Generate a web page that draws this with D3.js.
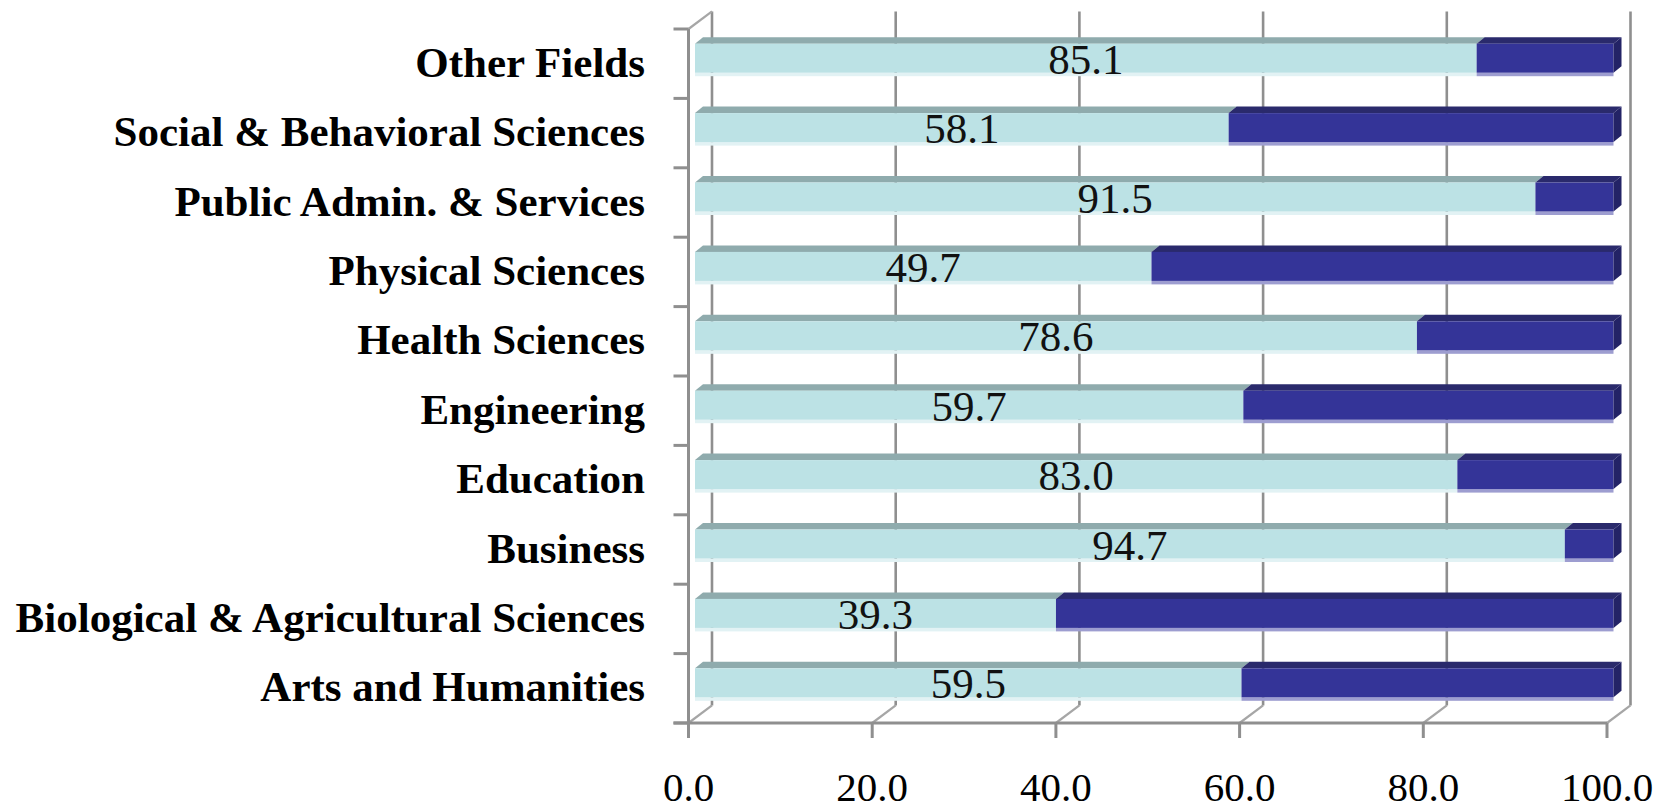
<!DOCTYPE html>
<html>
<head>
<meta charset="utf-8">
<script src="https://cdn.jsdelivr.net/npm/d3@7"></script>
<style>
  html, body { margin: 0; padding: 0; background: #ffffff; }
  svg { display: block; }
</style>
</head>
<body>
<svg id="chart" width="1671" height="811"></svg>
<script>
// Categories listed bottom to top
const categories = [
  "Arts and Humanities",
  "Biological & Agricultural Sciences",
  "Business",
  "Education",
  "Engineering",
  "Health Sciences",
  "Physical Sciences",
  "Public Admin. & Services",
  "Social & Behavioral Sciences",
  "Other Fields"
];
// First (light) series, shown as labels
const shareA = [59.5, 39.3, 94.7, 83.0, 59.7, 78.6, 49.7, 91.5, 58.1, 85.1];
// Second (dark) series
const shareB = [40.5, 60.7, 5.3, 17.0, 40.3, 21.4, 50.3, 8.5, 41.9, 14.9];
const xTicks = [0, 20, 40, 60, 80, 100];

const svg = d3.select("#chart");

// Front plane scales
const x = d3.scaleLinear().domain([0, 100]).range([688.5, 1607]);
const y = d3.scaleBand().domain(categories.slice().reverse()).range([29, 723]).padding(0);

// Depth offset of the back wall relative to the front plane
const DX = 23.5, DY = -17.6;
// Bar geometry relative to a band
const barShift = 6.5;          // bar front face x offset from axis
const bdx = 8, bdy = -6.5;     // bar depth
const faceTop = -20, faceBot = 9, stripH = 3.5;

const floorY = y.range()[1];
const topY = y.range()[0];
const gridColor = "#8f8f8f";

// Back wall gridlines
const grid = svg.append("g");
grid.selectAll("line.back")
  .data(xTicks)
  .join("line")
  .attr("x1", d => x(d) + DX).attr("x2", d => x(d) + DX)
  .attr("y1", topY + DY).attr("y2", floorY + DY)
  .attr("stroke", gridColor).attr("stroke-width", 2.6);

// Floor diagonals at each tick
grid.selectAll("line.floor")
  .data(xTicks)
  .join("line")
  .attr("x1", d => x(d)).attr("y1", floorY)
  .attr("x2", d => x(d) + DX).attr("y2", floorY + DY)
  .attr("stroke", "#a6a6a6").attr("stroke-width", 2.2);

// Left wall top edge
grid.append("line")
  .attr("x1", x(0)).attr("y1", topY)
  .attr("x2", x(0) + DX).attr("y2", topY + DY)
  .attr("stroke", "#a6a6a6").attr("stroke-width", 2.2);

// Bars
const rows = categories.map((c, i) => ({ cat: c, a: shareA[i], b: shareB[i] }));
const bx = v => x(v) + barShift;

function box(g, c, x0, x1, cols, withSide) {
  const cy = y(c) + y.bandwidth() / 2;
  const t = cy + faceTop, b = cy + faceBot;
  // bottom strip
  g.append("rect").attr("x", x0).attr("y", b).attr("width", x1 - x0).attr("height", stripH)
    .attr("fill", cols.strip);
  // top face
  g.append("path")
    .attr("d", `M${x0},${t}L${x0 + bdx},${t + bdy}L${x1 + bdx},${t + bdy}L${x1},${t}Z`)
    .attr("fill", cols.top);
  // front face
  g.append("rect").attr("x", x0).attr("y", t).attr("width", x1 - x0).attr("height", b - t)
    .attr("fill", cols.front);
  if (withSide) {
    g.append("path")
      .attr("d", `M${x1},${t}L${x1 + bdx},${t + bdy}L${x1 + bdx},${b + bdy}L${x1},${b}Z`)
      .attr("fill", cols.side);
  }
}

const lightCols = { front: "#bce2e5", top: "#8fabad", strip: "#e2f2f4", side: "#8fabad" };
const darkCols = { front: "#343498", top: "#2a2a6c", strip: "#9d9dd0", side: "#232366" };

const bars = svg.append("g");
rows.forEach(r => {
  const g = bars.append("g");
  box(g, r.cat, bx(0), bx(r.a), lightCols, false);
  box(g, r.cat, bx(r.a), bx(r.a + r.b), darkCols, true);
});

// Value labels on the light segments
svg.append("g").selectAll("text")
  .data(rows)
  .join("text")
  .attr("x", d => (bx(0) + bx(d.a)) / 2)
  .attr("y", d => y(d.cat) + y.bandwidth() / 2 + 10)
  .attr("text-anchor", "middle")
  .attr("font-family", "'Liberation Serif', 'Times New Roman', serif")
  .attr("font-size", 43)
  .attr("fill", "#111")
  .text(d => d.a.toFixed(1));

// Front axes
const axes = svg.append("g").attr("stroke", gridColor).attr("stroke-width", 3);
axes.append("line")
  .attr("x1", x(0)).attr("x2", x(0))
  .attr("y1", topY).attr("y2", floorY + 15);
axes.append("line")
  .attr("x1", x(0) - 15).attr("x2", x(100))
  .attr("y1", floorY).attr("y2", floorY);
// Category ticks
const bandEdges = categories.map(c => y(c)).concat([floorY]);
axes.selectAll("line.ytick")
  .data(bandEdges)
  .join("line")
  .attr("x1", x(0) - 15).attr("x2", x(0))
  .attr("y1", d => d).attr("y2", d => d);
// Value ticks
axes.selectAll("line.xtick")
  .data(xTicks)
  .join("line")
  .attr("x1", d => x(d)).attr("x2", d => x(d))
  .attr("y1", floorY).attr("y2", floorY + 15);

// Category labels
svg.append("g").selectAll("text")
  .data(categories)
  .join("text")
  .attr("x", 645)
  .attr("y", d => y(d) + y.bandwidth() / 2 + 13)
  .attr("text-anchor", "end")
  .attr("font-family", "'Liberation Serif', 'Times New Roman', serif")
  .attr("font-weight", "bold")
  .attr("font-size", 43)
  .attr("fill", "#000")
  .text(d => d);

// Value axis labels
svg.append("g").selectAll("text")
  .data(xTicks)
  .join("text")
  .attr("x", d => x(d))
  .attr("y", 801)
  .attr("text-anchor", "middle")
  .attr("font-family", "'Liberation Serif', 'Times New Roman', serif")
  .attr("font-size", 41)
  .attr("fill", "#000")
  .text(d => d.toFixed(1));
</script>
</body>
</html>
